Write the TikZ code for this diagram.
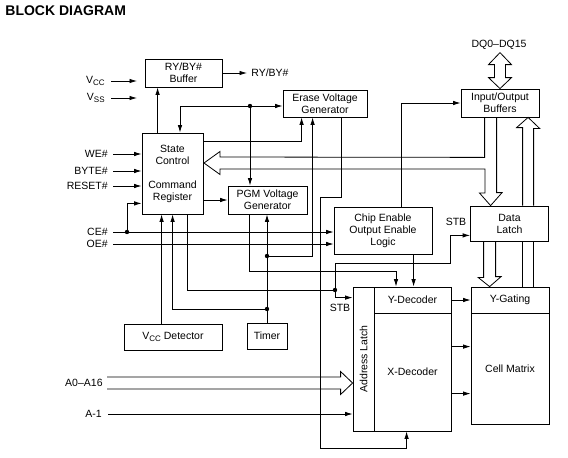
\documentclass[tikz,border=0pt]{standalone}
\usepackage{fontspec}
\setmainfont{Liberation Sans}
\usetikzlibrary{calc,arrows.meta}
\newcommand{\blkfont}{\fontsize{10.5}{12}\selectfont}
\newcommand{\Vsub}[1]{V{\footnotesize\raisebox{-0.3ex}{#1}}}

\begin{document}
\begin{tikzpicture}[x=1pt, y=-1pt, line width=0.8pt,
  blk/.style={draw, rectangle, inner sep=1pt, align=center, font=\blkfont},
  sig/.style={font=\blkfont, inner sep=2pt},
  arr/.style={-{Latex[length=7.5pt,width=4.5pt]}},
]
\useasboundingbox (0,0) rectangle (568,458);

\node[anchor=west, inner sep=0pt, font=\fontsize{14}{16}\selectfont\bfseries] (title) at (5,11) {BLOCK DIAGRAM};

% blocks
\node[blk, minimum width=77, minimum height=28] (ryb) at (183.5,73) {RY/BY\#\\Buffer};
\node[blk, minimum width=84, minimum height=27] (ers) at (325,103.5) {Erase Voltage\\Generator};
\node[blk, minimum width=61, minimum height=81] (stc) at (172.5,173.5) {State\\Control\\[12pt]Command\\Register};
\node[blk, minimum width=79, minimum height=28] (pgm) at (267.5,200) {PGM Voltage\\Generator};
\node[blk, minimum width=98, minimum height=47] (ceo) at (383,230.5) {Chip Enable\\Output Enable\\Logic};
\node[blk, minimum width=78, minimum height=28] (iob) at (500,103) {Input/Output\\Buffers};
\node[blk, minimum width=78, minimum height=35] (dlt) at (509.5,223.5) {Data\\Latch};
\node[blk, minimum width=98, minimum height=26] (vcd) at (173,337) {V{\footnotesize\raisebox{-0.6ex}{CC}} Detector};
\node[blk, minimum width=40, minimum height=26] (tmr) at (267,336) {Timer};
\node[blk, minimum width=21, minimum height=144] (adl) at (363.5,359) {};
\node[sig, rotate=90] (adlt) at (adl.center) {Address Latch};
\node[blk, minimum width=77, minimum height=26] (ydc) at (412.5,300) {Y-Decoder};
\node[blk, minimum width=77, minimum height=118] (xdc) at (412.5,372) {X-Decoder};
\node[blk, minimum width=78, minimum height=26] (ygt) at (510,300) {Y-Gating};
\node[blk, minimum width=78, minimum height=111] (cmx) at (510,368.5) {Cell Matrix};

% pins and labels
\node[sig, anchor=east] (vcc) at (107,81) {\Vsub{CC}};
\node[sig, anchor=east] (vss) at (107,98) {\Vsub{SS}};
\node[sig, anchor=east] (we) at (110,154) {WE\#};
\node[sig, anchor=east] (byte) at (110,171) {BYTE\#};
\node[sig, anchor=east] (rst) at (110,186) {RESET\#};
\node[sig, anchor=east] (ce) at (110,232) {CE\#};
\node[sig, anchor=east] (oe) at (110,244) {OE\#};
\node[sig, anchor=east] (a016) at (105,383) {A0--A16};
\node[sig, anchor=east] (am1) at (104,414) {A-1};
\node[sig, anchor=west, inner sep=4pt] (rybo) at (247,73) {RY/BY\#};
\node[sig] (dq) at (499,45) {DQ0--DQ15};
\node[sig] (stb1) at (456,222) {STB};
\node[sig] (stb2) at (340,308) {STB};

% junctions
\coordinate (tn) at (180,106);
\coordinate (tnd) at (250,106);
\coordinate (tmj) at (267,256);
\coordinate (tmk) at (267,309);
\coordinate (stbj) at (335,290);
\coordinate (stbk) at (450,263);
\coordinate (pgy) at (396,271);
\coordinate (ea) at (320,197);
\coordinate (eb) at (320,448);
\coordinate (cej) at (127,232);
\coordinate (busTip) at (204,163);
\coordinate (vccE) at (137,81);
\coordinate (vssE) at (137,98);

% supply and control pins
\draw[arr] ($(vcc.east)+(4,0)$) -- (vccE);
\draw[arr] ($(vss.east)+(4,0)$) -- (vssE);
\foreach \s in {we,byte,rst}
  \draw[arr] ($(\s.east)+(3,0)$) -- (\s.east -| stc.west);
\foreach \s in {ce,oe}
  \draw[arr] ($(\s.east)+(3,0)$) -- (\s.east -| ceo.west);
\draw[arr] (cej) |- ($(stc.south west)+(0,-11)$);

% state machine connections
\draw[arr] (ryb.east) -- (rybo.west);
\draw[arr] ($(stc.north west)+(16,0)$) -- ($(ryb.south west)+(13,0)$);
\draw[arr] (tn) -- (tn |- stc.north);
\draw[arr] (tn) -- (tn -| ers.west);
\draw[arr] (tnd) -- (tnd |- pgm.north);
\draw[arr] ($(stc.north east)+(0,9)$) -| ($(ers.south west)+(19,0)$);
\draw[arr] (stc.east |- pgm.west) -- (pgm.west);
\draw[arr] (tmr.north) -- (tmr.north |- pgm.south);
\draw[arr] (tmj) -| ($(ers.south west)+(30,0)$);
\draw[arr] (tmk) -| ($(stc.south west)+(31,0)$);
\draw[arr] ($(vcd.north west)+(38,0)$) -- ($(stc.south west)+(20,0)$);

% strobes
\draw ($(stc.south west)+(46,0)$) |- (stbj);
\draw[arr] (stbj) |- ($(adl.north west)+(0,11)$);
\draw[arr] (stbj) |- (stbk) |- ($(dlt.south west)+(0,-6)$);

% voltages and enables to the array
\draw[arr] ($(pgm.south west)+(22,0)$) |- (pgy) -- (pgy |- ydc.north);
\draw[arr] ($(ceo.south west)+(80,0)$) -- ($(ydc.north west)+(40,0)$);
\draw[arr] ($(ceo.north west)+(68,0)$) |- (iob.west);
\draw[arr] ($(ers.south east)+(-26,0)$) |- (ea) -- (eb) -| ($(xdc.south west)+(33,0)$);

\draw[arr] (ydc.east) -- (ygt.west);
\draw[arr] ($(xdc.north east)+(0,34)$) -- ($(cmx.north west)+(0,34)$);
\draw[arr] ($(xdc.north east)+(0,81)$) -- ($(cmx.north west)+(0,81)$);
\draw[arr] ($(am1.east)+(4,0)$) -- (am1.east -| adl.west);

\foreach \j in {tnd,tmj,tmk,stbj,cej}
  \fill (\j) circle (2.2);

% wide buses
\draw ($(iob.south west)+(24,0)$) -- ++(0,40) -- ($(busTip)+(16,-6)$) -- ++(0,-5.5)
  -- (busTip) -- ++(16,11.5) -- ++(0,-5.5) -- ++(265,0) -- ++(0,24) -- ++(-5.5,0)
  -- ($(dlt.north west)+(20.5,0)$) -- ++(11.5,-13) -- ++(-5.5,0) -- ($(iob.south west)+(36,0)$);
\draw ($(dlt.south west)+(13.5,0)$) -- ++(0,36) -- ++(-5.5,0) -- ($(ygt.north west)+(19,0)$)
  -- ++(11.5,-10) -- ++(-5.5,0) -- ($(dlt.south west)+(25.5,0)$);
\draw ($(ygt.north west)+(52,0)$) coordinate (rp1) -- (rp1 |- dlt.south);
\draw ($(ygt.north west)+(63,0)$) coordinate (rp2) -- (rp2 |- dlt.south);
\draw (rp1 |- dlt.north) -- ++(0,-78) -- ++(-6,0) -- ($(iob.south west)+(67.5,0)$)
  -- ++(11.5,11) -- ++(-6,0) -- (rp2 |- dlt.north);
\draw ($(iob.north)+(-5.5,-24)$) -- ++(-6,0) -- ++(11.5,-12) -- ++(11.5,12) -- ++(-6,0)
  -- ++(0,13) -- ++(6,0) -- (iob.north) -- ++(-11.5,-11) -- ++(6,0) -- cycle;
\draw ($(a016.east)+(2,-6)$) -- ($(adl.west)+(-12,18)$) -- ++(0,-5.5) -- ($(adl.west)+(0,24)$)
  -- ++(-12,11.5) -- ++(0,-5.5) -- ($(a016.east)+(2,6)$);
\end{tikzpicture}
\end{document}
